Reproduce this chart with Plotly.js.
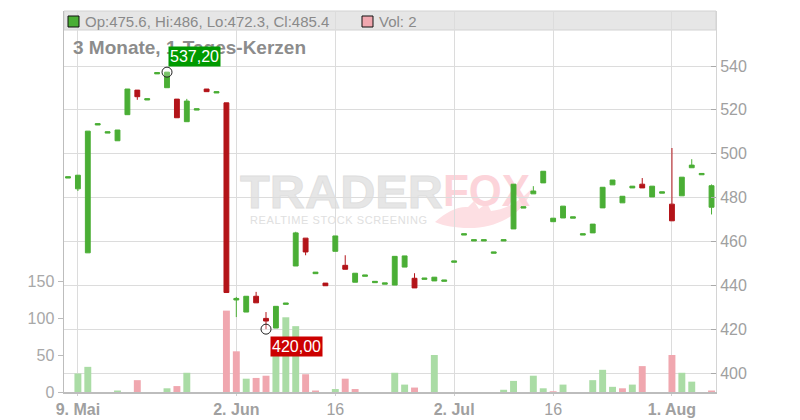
<!DOCTYPE html>
<html>
<head>
<meta charset="utf-8">
<script src="https://cdn.plot.ly/plotly-3.0.1.min.js"></script>
<style>
  html, body { margin: 0; padding: 0; background: #fff; }
  #chart { width: 800px; height: 420px; }
</style>
</head>
<body>
<div id="chart"></div>
<script>
// Handelstage (ohne Wochenenden)
var datum = [
  '2025-05-08','2025-05-09',
  '2025-05-12','2025-05-13','2025-05-14','2025-05-15','2025-05-16',
  '2025-05-19','2025-05-20','2025-05-21','2025-05-22','2025-05-23',
  '2025-05-26','2025-05-27','2025-05-28','2025-05-29','2025-05-30',
  '2025-06-02','2025-06-03','2025-06-04','2025-06-05','2025-06-06',
  '2025-06-09','2025-06-10','2025-06-11','2025-06-12','2025-06-13',
  '2025-06-16','2025-06-17','2025-06-18','2025-06-19','2025-06-20',
  '2025-06-23','2025-06-24','2025-06-25','2025-06-26','2025-06-27',
  '2025-06-30','2025-07-01','2025-07-02','2025-07-03','2025-07-04',
  '2025-07-07','2025-07-08','2025-07-09','2025-07-10','2025-07-11',
  '2025-07-14','2025-07-15','2025-07-16','2025-07-17','2025-07-18',
  '2025-07-21','2025-07-22','2025-07-23','2025-07-24','2025-07-25',
  '2025-07-28','2025-07-29','2025-07-30','2025-07-31','2025-08-01',
  '2025-08-04','2025-08-05','2025-08-06','2025-08-07'
];
var eroeffnung = [
  488.9,484.0,
  454.8,513.1,509.4,505.9,517.8,
  529.0,524.5,536.4,530.1,524.9,
  514.6,519.9,529.5,527.7,523.2,
  433.3,427.8,435.0,424.9,420.5,
  431.3,448.8,461.5,445.3,441.0,
  455.5,449.1,441.4,444.1,441.2,
  440.5,440.1,448.3,443.2,442.7,
  442.0,441.8,450.5,462.9,460.2,
  460.2,454.6,460.2,465.7,475.2,
  481.7,486.7,469.0,470.7,470.6,
  462.9,463.9,475.3,485.8,477.6,
  484.4,486.1,480.3,482.0,477.0,
  480.8,493.6,490.4,475.6
];
var hoch = [
  489.5,490.2,
  510.3,513.7,510.0,510.8,529.5,
  529.0,525.1,537.0,537.2,524.9,
  525.0,520.5,529.5,528.3,523.2,
  434.7,435.0,437.0,427.8,430.4,
  431.9,464.4,461.5,446.0,441.0,
  462.5,453.7,445.5,444.7,441.8,
  441.1,453.2,453.4,445.5,443.3,
  443.7,442.4,451.1,463.5,460.8,
  460.8,455.2,460.8,486.1,475.8,
  485.2,492.0,470.6,476.1,471.2,
  463.5,467.9,484.7,488.0,480.6,
  485.2,488.9,485.2,482.6,502.6,
  489.3,497.5,491.0,486.0
];
var tief = [
  488.9,483.0,
  454.8,513.1,509.4,505.9,517.8,
  524.6,524.5,536.4,530.1,516.4,
  514.6,519.9,528.3,527.7,436.7,
  425.5,427.8,432.0,420.0,420.5,
  431.3,448.8,453.7,445.3,439.8,
  455.5,447.3,441.4,444.1,441.2,
  440.5,440.1,448.3,438.8,442.7,
  442.0,441.8,450.5,462.9,460.2,
  460.2,454.6,460.2,465.7,475.2,
  481.7,486.7,469.0,470.7,470.6,
  462.9,463.9,475.3,485.8,477.6,
  484.4,484.4,480.3,482.0,469.4,
  480.8,493.6,490.4,472.3
];
var schluss = [
  489.5,490.2,
  510.3,513.7,510.0,510.8,529.5,
  526.0,525.1,537.0,537.2,516.4,
  524.0,520.5,528.3,528.3,436.7,
  434.0,435.0,432.0,423.7,430.4,
  431.9,463.9,455.2,446.0,439.8,
  462.5,447.3,445.5,444.7,441.8,
  441.1,453.2,453.4,438.8,443.3,
  443.7,442.4,451.1,463.5,460.8,
  460.8,455.2,460.8,486.1,475.8,
  483.0,492.0,470.6,476.1,471.2,
  463.5,467.9,484.7,488.0,480.6,
  485.2,484.4,485.2,482.6,469.4,
  489.3,494.8,491.0,485.4
];
var volumen = [
  0,25,
  34,0,0,2,0,
  16,0,0,5,8,
  26,0,0,0,110,
  55,18,19,22,50,
  101,89,24,2,0,
  4,18,4,0,0,
  0,26,10,6,0,
  50,0,0,0,0,
  0,0,3,15,0,
  22,5,1,10,0,
  0,16,30,7,5,
  10,35,0,0,50,
  26,14,0,2
];

var tickDatum = ['2025-05-09','2025-06-02','2025-06-16','2025-07-02','2025-07-16','2025-08-01'];
var tickText = ['<b>9. Mai</b>','<b>2. Jun</b>','16','<b>2. Jul</b>','16','<b>1. Aug</b>'];
var preisTicks = [400,420,440,460,480,500,520,540];
var volTicks = [0,50,100,150];

var gruen = '#4aae35', rot = '#b31419';
var volGruen = '#aadca5', volRot = '#f0a7af';
var grau = '#999999';
var schrift = 'Liberation Sans, Arial, sans-serif';

// Plotbereich in Pixeln
var L = 64, R = 84, T = 11, B = 28, W = 800, H = 420;
var pw = W - L - R, ph = H - T - B;
function px(x) { return (x - L) / pw; }
function py(y) { return (H - B - y) / ph; }

// Volumenfarbe: Vergleich mit Vortagesschluss
var volFarben = volumen.map(function (v, i) {
  if (i === 0) return volGruen;
  return schluss[i] >= schluss[i - 1] ? volGruen : volRot;
});

// Hoch / Tief der Periode
var iMax = 0, iMin = 0;
for (var i = 0; i < hoch.length; i++) {
  if (hoch[i] > hoch[iMax]) iMax = i;
  if (tief[i] < tief[iMin]) iMin = i;
}
function fmt(v) { return v.toFixed(2).replace('.', ','); }

var n = datum.length - 1;
var legendeText = 'Op:' + eroeffnung[n] + ', Hi:' + hoch[n] + ', Lo:' + tief[n] + ', Cl:' + schluss[n];

// Wasserzeichen (liegt unter Gitter und Kerzen)
var svg = '<svg xmlns="http://www.w3.org/2000/svg" width="306" height="58" viewBox="0 0 306 58">' +
  '<path d="M199,52 C210,42 222,36 232,37 L238,31 L243,39 L251,33 L255,41 C268,40 284,32 296,18 C290,42 262,60 228,58 C214,57 205,55 199,52 Z" fill="#fddfe3"/>' +
  '<text x="4" y="38" font-family="Liberation Sans, Arial" font-weight="bold" font-size="46" fill="#e6e6e6" stroke="#dedede" stroke-width="0.8" textLength="203" lengthAdjust="spacingAndGlyphs">TRADER</text>' +
  '<text x="207" y="36" font-family="Liberation Sans, Arial" font-weight="bold" font-size="44" fill="#fcd4da" textLength="87" lengthAdjust="spacingAndGlyphs">FOX</text>' +
  '<text x="14" y="54" font-family="Liberation Sans, Arial" font-size="11" fill="#e0e0e0" textLength="177" lengthAdjust="spacing">REALTIME STOCK SCREENING</text>' +
  '</svg>';

var volTrace = {
  type: 'bar',
  x: datum,
  y: volumen,
  xaxis: 'x',
  yaxis: 'y',
  marker: { color: volFarben },
  hoverinfo: 'skip',
  showlegend: false
};

var kerzen = {
  type: 'candlestick',
  x: datum,
  open: eroeffnung,
  high: hoch,
  low: tief,
  close: schluss,
  xaxis: 'x',
  yaxis: 'y2',
  increasing: { line: { color: gruen, width: 1 }, fillcolor: gruen },
  decreasing: { line: { color: rot, width: 1 }, fillcolor: rot },
  whiskerwidth: 0,
  hoverinfo: 'skip',
  showlegend: false
};

var extrema = {
  type: 'scatter',
  mode: 'markers',
  x: [datum[iMax], datum[iMin]],
  y: [hoch[iMax], tief[iMin]],
  xaxis: 'x',
  yaxis: 'y2',
  marker: { symbol: 'circle', size: 10, color: 'rgba(255,255,255,0.25)', line: { color: '#222', width: 1 } },
  hoverinfo: 'skip',
  showlegend: false
};

var layout = {
  width: W,
  height: H,
  margin: { l: L, r: R, t: T, b: B, pad: 0 },
  paper_bgcolor: '#fff',
  plot_bgcolor: '#fff',
  font: { family: schrift, color: grau, size: 16 },
  showlegend: false,
  bargap: 0.3,
  xaxis: {
    type: 'category',
    range: [-0.404, 65.45],
    tickvals: tickDatum,
    ticktext: tickText,
    showgrid: true,
    gridcolor: '#dcdcdc',
    gridwidth: 1,
    showline: true,
    linecolor: '#bdbdbd',
    linewidth: 1.5,
    ticks: 'outside',
    ticklen: 2,
    tickcolor: '#cfcfcf',
    tickfont: { size: 16, color: '#a0a0a0' },
    zeroline: false,
    rangeslider: { visible: false },
    fixedrange: true
  },
  yaxis: {
    side: 'left',
    range: [0, 515],
    tickvals: volTicks,
    showgrid: false,
    zeroline: false,
    showline: true,
    linecolor: '#bdbdbd',
    linewidth: 1.5,
    ticks: 'outside',
    ticklen: 5,
    tickcolor: '#bbbbbb',
    tickfont: { size: 16, color: '#a8a8a8' },
    fixedrange: true
  },
  yaxis2: {
    overlaying: 'y',
    side: 'right',
    range: [391.34, 565.08],
    tickvals: preisTicks,
    showgrid: true,
    gridcolor: '#dcdcdc',
    gridwidth: 1,
    zeroline: false,
    showline: true,
    linecolor: '#d4d4d4',
    linewidth: 1,
    ticks: 'inside',
    ticklen: 5,
    tickcolor: '#aaaaaa',
    tickfont: { size: 16, color: '#a0a0a0' },
    fixedrange: true
  },
  shapes: [
    { type: 'rect', xref: 'paper', yref: 'paper', x0: 0, x1: 1, y0: py(30), y1: 1,
      fillcolor: '#e6e6e6', line: { color: '#d2d2d2', width: 1 }, layer: 'below' },
    { type: 'rect', xref: 'paper', yref: 'paper', x0: px(68), x1: px(79), y0: py(27), y1: py(16),
      fillcolor: gruen, line: { color: '#111', width: 1 }, layer: 'above' },
    { type: 'rect', xref: 'paper', yref: 'paper', x0: px(362), x1: px(373), y0: py(27), y1: py(16),
      fillcolor: volRot, line: { color: '#111', width: 1 }, layer: 'above' }
  ],
  images: [{
    source: 'data:image/svg+xml;charset=utf-8,' + encodeURIComponent(svg),
    xref: 'paper', yref: 'paper',
    x: px(236), y: py(170),
    sizex: 306 / pw, sizey: 58 / ph,
    xanchor: 'left', yanchor: 'top',
    sizing: 'stretch',
    layer: 'below'
  }],
  annotations: [
    { xref: 'paper', yref: 'paper', x: px(83), y: py(21), xanchor: 'left', yanchor: 'middle',
      text: legendeText, showarrow: false, font: { size: 15, color: '#8a8a8a' } },
    { xref: 'paper', yref: 'paper', x: px(377), y: py(21), xanchor: 'left', yanchor: 'middle',
      text: 'Vol: ' + volumen[n], showarrow: false, font: { size: 15, color: '#8a8a8a' } },
    { xref: 'paper', yref: 'paper', x: px(71), y: py(47), xanchor: 'left', yanchor: 'middle',
      text: '<b>3 Monate, 1-Tages-Kerzen</b>', showarrow: false, font: { size: 19, color: '#8c8c8c' } },
    { xref: 'x', yref: 'y2', x: datum[iMax], y: hoch[iMax], xanchor: 'left', yanchor: 'bottom',
      xshift: 1, yshift: 5, text: fmt(hoch[iMax]), showarrow: false,
      bgcolor: '#009a00', borderpad: 1, font: { size: 16, color: '#fff' } },
    { xref: 'x', yref: 'y2', x: datum[iMin], y: tief[iMin], xanchor: 'left', yanchor: 'top',
      xshift: 4, yshift: -7, text: fmt(tief[iMin]), showarrow: false,
      bgcolor: '#cc0000', borderpad: 1, font: { size: 16, color: '#fff' } }
  ]
};

Plotly.newPlot('chart', [volTrace, kerzen, extrema], layout, { displayModeBar: false, staticPlot: true });
</script>
</body>
</html>
